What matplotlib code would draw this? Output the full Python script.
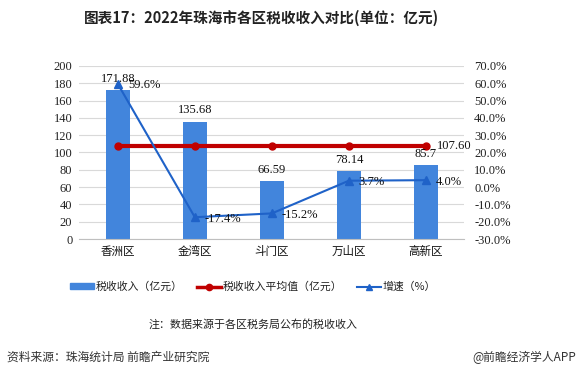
import matplotlib
matplotlib.use("Agg")
import matplotlib.pyplot as plt
from matplotlib.lines import Line2D
from matplotlib.patches import Patch

categories = ["香洲区", "金湾区", "斗门区", "万山区", "高新区"]
tax = [171.88, 135.68, 66.59, 78.14, 85.7]
tax_labels = ["171.88", "135.68", "66.59", "78.14", "85.7"]
avg = [107.60, 107.60, 107.60, 107.60, 107.60]
growth = [59.6, -17.4, -15.2, 3.7, 4.0]
left_ticks = list(range(0, 201, 20))
right_ticks = list(range(-30, 71, 10))

cjk = ["Noto Sans CJK SC", "DejaVu Sans"]
serif = ["Liberation Serif", "DejaVu Serif"]
plt.rcParams['font.family'] = cjk

fig = plt.figure(figsize=(5.79, 3.77), dpi=100)
ax = fig.add_axes([0.137, 0.366, 0.665, 0.459])
x = list(range(len(categories)))

ax.bar(x, tax, width=0.31, color="#4285dc", zorder=2)
ax.set_ylim(0, 200)
ax.set_xlim(-0.5, 4.5)
ax.set_yticks(left_ticks)
ax.set_yticklabels([str(t) for t in left_ticks], family=serif, fontsize=9, color="#222222")
ax.set_xticks(x)
ax.set_xticklabels(categories, fontsize=8.3, color="#111111")
ax.tick_params(axis='y', length=0, pad=5)
ax.tick_params(axis='x', length=0, pad=4)
ax.grid(axis='y', color="#d9d9d9", linewidth=0.8, zorder=0)
for s in ["top", "right", "left"]:
    ax.spines[s].set_visible(False)
ax.spines["bottom"].set_color("#bfbfbf")

ax.plot(x, avg, color="#c00000", linewidth=3, marker="o", markersize=5, zorder=4)

for xi, v, lab in zip(x, tax, tax_labels):
    ax.text(xi, v + 6, lab, ha="center", va="bottom", family=serif, fontsize=9, color="#111111", zorder=6)
ax.text(x[-1] + 0.15, avg[-1], "107.60", ha="left", va="center", family=serif, fontsize=9, color="#111111", zorder=6)

ax2 = ax.twinx()
ax2.set_ylim(-30, 70)
ax2.set_yticks(right_ticks)
ax2.set_yticklabels([f"{t:.1f}%" for t in right_ticks], family=serif, fontsize=9, color="#222222")
ax2.tick_params(axis='y', length=0, pad=7)
for s in ["top", "right", "left", "bottom"]:
    ax2.spines[s].set_visible(False)
ax2.plot(x, growth, color="#1f62c8", linewidth=1.5, marker="^", markersize=6, zorder=5)
for xi, g in zip(x, growth):
    ax2.text(xi + 0.13, g - 0.8, f"{g:.1f}%", ha="left", va="center", family=serif, fontsize=9, color="#111111", zorder=6)

fig.text(0.451, 0.952, "图表17：2022年珠海市各区税收收入对比(单位：亿元)", ha="center", va="center",
         fontsize=10.5, fontweight="bold", color="#222222")

handles = [Patch(color="#4285dc"),
           Line2D([0], [0], color="#c00000", linewidth=2.5, marker="o", markersize=4.5),
           Line2D([0], [0], color="#1f62c8", linewidth=1.5, marker="^", markersize=4.5)]
labels = ["税收收入（亿元）", "税收收入平均值（亿元）", "增速（%）"]
fig.legend(handles, labels, loc="center", bbox_to_anchor=(0.437, 0.239), ncol=3, frameon=False,
           fontsize=7.8, handlelength=2.2, handleheight=0.5, columnspacing=1.3, handletextpad=0.2,
           labelcolor="#222222")

fig.text(0.437, 0.14, "注：数据来源于各区税务局公布的税收收入", ha="center", va="center", fontsize=7.9, color="#222222")
fig.text(0.012, 0.053, "资料来源：珠海统计局 前瞻产业研究院", ha="left", va="center", fontsize=8.5, color="#333333")
fig.text(0.995, 0.053, "@前瞻经济学人APP", ha="right", va="center", fontsize=8.5, color="#333333")

fig.savefig("out.png", dpi=100)
